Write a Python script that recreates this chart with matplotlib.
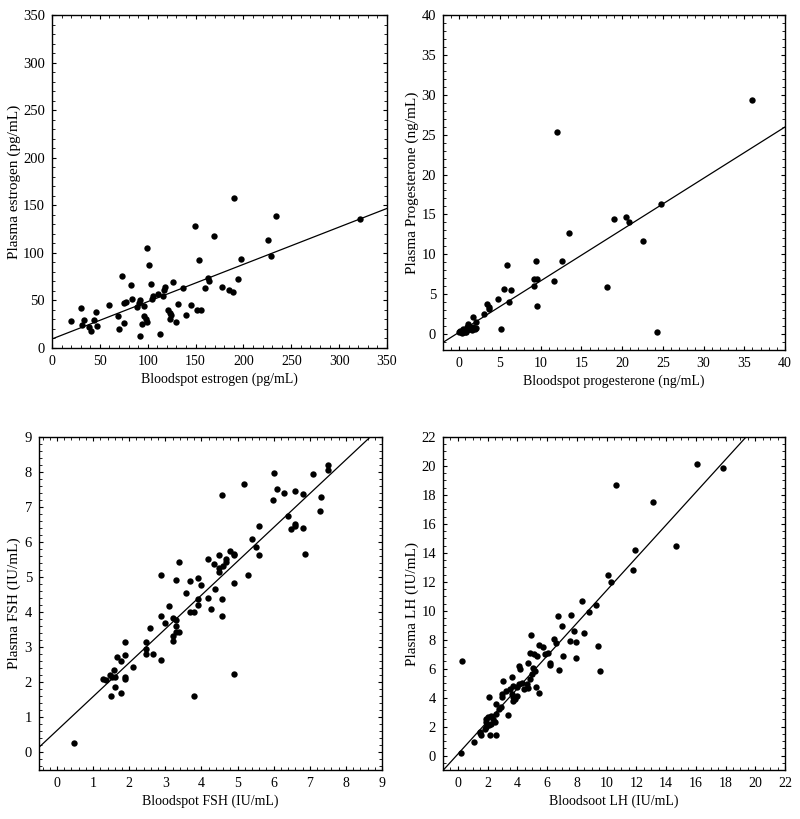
import matplotlib
matplotlib.use("Agg")
import matplotlib.pyplot as plt
from matplotlib.ticker import MultipleLocator, AutoMinorLocator
import numpy as np

plt.rcParams["font.family"] = ["Liberation Serif", "DejaVu Serif"]

# estrogen (pg/mL)
e2_spot = [20.2, 30.7, 31.3, 33.8, 39, 40.8, 44.2, 45.6, 47.4, 59.9, 69.3, 70.4,
           73.5, 74.9, 75.2, 77.7, 82.9, 83.6, 88.5, 90.6, 91.6, 92.3, 93.7, 95.8,
           96.5, 98.2, 98.9, 99.3, 101.4, 103.1, 104.5, 105.5, 110.8, 112.9, 115.6,
           117.4, 118.4, 121.2, 122.9, 123.6, 124.3, 126.1, 129.2, 132, 137.2, 140.4,
           145.2, 149, 151.2, 153.3, 156, 159.9, 163, 164.4, 169.3, 178, 185, 189.5,
           190.5, 194.4, 197.8, 225.7, 228.5, 234.4, 321.5]
e2_plasma = [28, 42.4, 23.8, 29, 22, 18.2, 29, 37.5, 23, 45, 34, 20,
             76, 47.3, 26, 48.6, 66, 51.8, 42.7, 47.3, 50.7, 12.3, 25.2, 44.5,
             33.6, 30.5, 105, 27.6, 87.5, 67.2, 51.5, 54.3, 56.7, 14.4, 54.6,
             61.3, 63.7, 40.3, 36.8, 30.8, 34.7, 69, 27, 46.2, 63.4, 34.7,
             45.2, 128, 39.6, 93, 40.3, 63.4, 73.2, 70, 117.6, 64.4, 60.6, 58.5,
             157.9, 72.1, 93.1, 113.4, 96.3, 138.6, 135.1]
e2_fit = (9.5, 0.392)

# progesterone (ng/mL)
p4_spot = [0.0, 0.08, 0.2, 0.29, 0.49, 0.5, 0.6, 0.7, 0.8, 0.9, 1.0, 1.11, 1.2,
           1.32, 1.5, 1.73, 1.93, 2.0, 1.65, 2.1, 3.0, 3.4, 3.6, 3.7, 4.7, 5.1,
           5.5, 5.8, 6.05, 6.4, 9.15, 9.2, 9.4, 9.5, 9.5, 11.6, 12.05, 12.6, 13.5,
           18.1, 19.05, 20.5, 20.9, 22.6, 24.3, 24.8, 36.0]
p4_plasma = [0.21, 0.42, 0.3, 0.13, 0.63, 0.2, 0.4, 0.21, 0.3, 0.84, 0.5, 1.26, 0.9,
             0.63, 0.5, 0.84, 0.63, 0.75, 2.2, 1.55, 2.5, 3.8, 3.4, 3.15, 4.35, 0.65,
             5.6, 8.6, 4.0, 5.5, 6.05, 6.9, 9.2, 6.9, 3.55, 6.7, 25.3, 9.1, 12.7,
             5.9, 14.4, 14.7, 14.0, 11.7, 0.3, 16.3, 29.3]
p4_fit = (0.24, 0.643)

# FSH (IU/mL)
fsh_spot = [0.47, 1.28, 1.36, 1.48, 1.49, 1.53, 1.59, 1.6, 1.6, 1.67, 1.77, 1.77,
            1.87, 1.87, 1.87, 1.87, 2.09, 2.46, 2.46, 2.46, 2.57, 2.66, 2.88, 2.88,
            2.88, 3.0, 3.11, 3.2, 3.2, 3.2, 3.29, 3.3, 3.29, 3.37, 3.29, 3.39, 3.57,
            3.68, 3.69, 3.78, 3.78, 3.9, 3.89, 3.89, 3.99, 4.19, 4.19, 4.27, 4.38,
            4.36, 4.48, 4.48, 4.48, 4.57, 4.57, 4.57, 4.59, 4.68, 4.69, 4.78, 4.89,
            4.89, 4.89, 4.89, 5.18, 5.3, 5.39, 5.5, 5.6, 5.6, 5.98, 6.0, 6.09, 6.29,
            6.39, 6.49, 6.6, 6.6, 6.59, 6.8, 6.8, 6.88, 7.09, 7.3, 7.28, 7.5, 7.5]
fsh_plasma = [0.28, 2.1, 2.06, 2.2, 1.6, 2.16, 2.36, 1.87, 2.15, 2.71, 1.71, 2.62,
              3.16, 2.77, 2.15, 2.09, 2.44, 3.14, 2.96, 2.81, 3.56, 2.8, 2.65, 5.05,
              3.9, 3.69, 4.18, 3.85, 3.33, 3.18, 3.79, 4.92, 3.62, 3.45, 3.43, 5.43, 4.56,
              4.89, 4.01, 1.61, 4.01, 4.99, 4.39, 4.22, 4.77, 5.53, 4.42, 4.09, 4.67,
              5.38, 5.62, 5.25, 5.15, 7.34, 4.39, 3.9, 5.33, 5.51, 5.43, 5.74, 5.67,
              5.62, 4.83, 2.25, 7.65, 5.07, 6.09, 5.86, 6.45, 5.64, 7.2, 7.96, 7.51, 7.41,
              6.74, 6.37, 7.47, 6.53, 6.45, 7.37, 6.4, 5.67, 7.94, 7.28, 6.89, 8.2, 8.05]
fsh_fit = (0.63, 0.965)

# LH (IU/mL)
lh_spot = [0.23, 0.27, 1.06, 1.47, 1.51, 1.58, 1.8, 1.92, 2.14, 2.59, 1.87, 2.03,
           2.26, 2.37, 2.48, 2.26, 1.92, 2.1, 2.59, 2.78, 2.93, 2.1, 2.59, 3.0, 3.0,
           3.38, 3.27, 3.5, 3.61, 3.72, 3.72, 3.84, 3.95, 3.68, 3.05, 3.61, 3.95, 4.13,
           4.29, 4.44, 4.63, 4.74, 4.13, 4.17, 4.74, 4.85, 4.96, 4.9, 4.85, 5.12, 5.3,
           5.46, 5.75, 5.87, 6.09, 6.2, 6.2, 6.45, 6.59, 6.77, 5.26, 5.44, 5.08, 5.19,
           6.75, 7.0, 7.1, 7.51, 7.63, 7.8, 7.94, 7.94, 8.33, 8.48, 8.82, 9.32, 9.43,
           9.59, 10.13, 10.29, 10.63, 11.8, 11.94, 13.15, 14.64, 16.07, 17.8]
lh_plasma = [0.16, 6.53, 0.92, 1.6, 1.54, 1.42, 1.83, 1.95, 1.42, 1.44, 2.52, 2.64,
             2.75, 2.52, 2.29, 2.18, 2.29, 2.11, 2.86, 3.21, 3.32, 4.01, 3.55, 4.01, 4.24,
             2.8, 4.47, 4.58, 4.24, 4.01, 3.78, 3.9, 4.12, 4.81, 5.13, 5.45, 4.7, 4.93,
             5.04, 4.58, 4.93, 4.63, 6.19, 5.96, 6.42, 5.27, 5.61, 8.3, 7.1, 6.99, 6.87,
             7.61, 7.52, 6.99, 7.1, 6.42, 6.23, 8.02, 7.79, 5.91, 4.7, 4.35, 6.07, 5.84,
             9.67, 8.94, 6.9, 7.9, 9.72, 8.62, 7.85, 6.76, 10.68, 8.48, 9.9, 10.37, 7.54,
             5.83, 12.47, 12.0, 18.7, 12.83, 14.18, 17.5, 14.48, 20.16, 19.89]
lh_fit = (0.1, 1.13)

W, H = 800, 819
fig = plt.figure(figsize=(W / 100, H / 100), dpi=100)


def panel(box, xs, ys, fit, lim, major, xlabel, ylabel, ylab_x, minor=5):
    l, t, r, b = box
    w, h = r - l, b - t
    ax = fig.add_axes([l / W, 1 - b / H, w / W, h / H])
    ax.scatter(xs, ys, s=21, color="black", zorder=3, linewidths=0)
    xx = np.array([lim[0], lim[1]])
    ax.plot(xx, fit[0] + fit[1] * xx, color="black", lw=0.9)
    ax.set_xlim(lim)
    ax.set_ylim(lim)
    ax.xaxis.set_major_locator(MultipleLocator(major))
    ax.yaxis.set_major_locator(MultipleLocator(major))
    ax.xaxis.set_minor_locator(AutoMinorLocator(minor))
    ax.yaxis.set_minor_locator(AutoMinorLocator(minor))
    ax.tick_params(which="both", direction="in", top=True, right=True, pad=5)
    ax.tick_params(axis="x", labelsize=10)
    ax.tick_params(axis="y", labelsize=10.5)
    ax.tick_params(which="major", length=3, width=0.8)
    ax.tick_params(which="minor", length=2, width=0.6)
    ax.set_xlabel(xlabel, fontsize=10)
    ax.set_ylabel(ylabel, fontsize=11)
    # place axis titles at the same pixel offsets as the original figure
    ax.xaxis.set_label_coords(0.5, -25 / h)
    ax.yaxis.set_label_coords((ylab_x - l) / w, 0.5)
    for sp in ax.spines.values():
        sp.set_linewidth(1.0)
    return ax


panel((52, 15, 387, 348), e2_spot, e2_plasma, e2_fit, (0, 350), 50,
      "Bloodspot estrogen (pg/mL)", "Plasma estrogen (pg/mL)", 21)
panel((443, 15, 785, 350), p4_spot, p4_plasma, p4_fit, (-2, 40), 5,
      "Bloodspot progesterone (ng/mL)", "Plasma Progesterone (ng/mL)", 419)
panel((39, 437, 382, 770), fsh_spot, fsh_plasma, fsh_fit, (-0.5, 9), 1,
      "Bloodspot FSH (IU/mL)", "Plasma FSH (IU/mL)", 21)
panel((443, 437, 785, 770), lh_spot, lh_plasma, lh_fit, (-1, 22), 2,
      "Bloodsoot LH (IU/mL)", "Plasma LH (IU/mL)", 419, minor=4)

fig.savefig("out.png", dpi=100)
